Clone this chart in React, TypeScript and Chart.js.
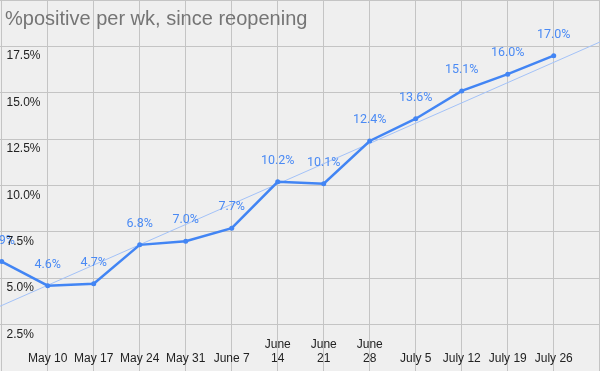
import React, { useEffect, useRef } from 'react';
import { Chart, registerables } from 'chart.js';

Chart.register(...registerables);

const title = '%positive per wk, since reopening';
const weeks = ['May 3', 'May 10', 'May 17', 'May 24', 'May 31', 'June 7', 'June 14', 'June 21', 'June 28', 'July 5', 'July 12', 'July 19', 'July 26'];
// wrapped tick labels as shown (the first week's label is not shown in the reference)
const tickLabels: string[][] = [[], ['May 10'], ['May 17'], ['May 24'], ['May 31'], ['June 7'], ['June', '14'], ['June', '21'], ['June', '28'], ['July 5'], ['July 12'], ['July 19'], ['July 26']];
const positivity = [5.9, 4.6, 4.7, 6.8, 7.0, 7.7, 10.2, 10.1, 12.4, 13.6, 15.1, 16.0, 17.0];
const yTicks = [0, 2.5, 5, 7.5, 10, 12.5, 15, 17.5, 20];
const yTickLabels = ['2.5%', '5.0%', '7.5%', '10.0%', '12.5%', '15.0%', '17.5%'];

const X_MIN = -0.037;
const X_MAX = 13.006;

function linearFit(values: number[]) {
  const n = values.length;
  const mx = (n - 1) / 2;
  const my = values.reduce((a, b) => a + b, 0) / n;
  let sxy = 0;
  let sxx = 0;
  values.forEach((v, i) => {
    sxy += (i - mx) * (v - my);
    sxx += (i - mx) * (i - mx);
  });
  const slope = sxy / sxx;
  const intercept = my - slope * mx;
  return (x: number) => intercept + slope * x;
}

export default function App() {
  const ref = useRef<HTMLCanvasElement | null>(null);

  useEffect(() => {
    if (!ref.current) return;
    const fit = linearFit(positivity);
    const overlay = {
      id: 'overlay',
      beforeDraw(chart: any) {
        const { ctx, width, height } = chart;
        ctx.save();
        ctx.fillStyle = '#efefef';
        ctx.fillRect(0, 0, width, height);
        ctx.restore();
      },
      afterDatasetsDraw(chart: any) {
        const { ctx } = chart;
        const meta = chart.getDatasetMeta(0);
        ctx.save();
        ctx.font = '12.5px Roboto';
        ctx.fillStyle = '#4a8af4';
        ctx.textAlign = 'center';
        ctx.textBaseline = 'alphabetic';
        meta.data.forEach((pt: any, i: number) => {
          ctx.fillText(positivity[i].toFixed(1) + '%', pt.x, pt.y - 18);
        });
        ctx.restore();
      },
      afterDraw(chart: any) {
        const { ctx } = chart;
        const xs = chart.scales.x;
        const ys = chart.scales.y;
        ctx.save();
        ctx.font = '12px "Liberation Sans", Arial, sans-serif';
        ctx.fillStyle = '#222222';
        ctx.textAlign = 'left';
        ctx.textBaseline = 'alphabetic';
        yTicks.slice(1, 8).forEach((v, i) => {
          ctx.fillText(yTickLabels[i], 6.5, ys.getPixelForValue(v) + 13);
        });
        ctx.textAlign = 'center';
        tickLabels.forEach((lines, i) => {
          const x = xs.getPixelForValue(i);
          lines.forEach((line, j) => {
            const y = 362 - (lines.length - 1 - j) * 14;
            ctx.fillText(line, x, y);
          });
        });
        ctx.font = '20px "Liberation Sans", Arial, sans-serif';
        ctx.fillStyle = '#757575';
        ctx.textAlign = 'left';
        ctx.fillText(title, 5, 25);
        ctx.restore();
      },
    };

    const chart = new Chart(ref.current, {
      type: 'line',
      data: {
        datasets: [
          {
            label: '%positive',
            data: positivity.map((v, i) => ({ x: i, y: v })),
            borderColor: '#4285f4',
            backgroundColor: '#4285f4',
            borderWidth: 2.5,
            pointRadius: 2.5,
            pointBorderWidth: 0,
            tension: 0,
          },
          {
            label: 'trend',
            data: [
              { x: X_MIN, y: fit(X_MIN) },
              { x: X_MAX, y: fit(X_MAX) },
            ],
            borderColor: '#a3c2f8',
            borderWidth: 1,
            pointRadius: 0,
          },
        ],
      },
      options: {
        animation: false,
        responsive: false,
        events: [],
        layout: { padding: 0, autoPadding: false },
        plugins: { legend: { display: false }, tooltip: { enabled: false }, title: { display: false } },
        scales: {
          x: {
            type: 'linear',
            min: X_MIN,
            max: X_MAX,
            afterBuildTicks: (scale: any) => {
              const t = weeks.map((_, i) => ({ value: i }));
              t.push({ value: weeks.length });
              scale.ticks = t;
            },
            grid: { color: '#c4c4c4', drawTicks: false, lineWidth: 1 },
            border: { display: false },
            ticks: { display: false },
          },
          y: {
            type: 'linear',
            min: 0,
            max: 20,
            afterBuildTicks: (scale: any) => {
              scale.ticks = yTicks.map((v) => ({ value: v }));
            },
            grid: { color: '#c4c4c4', drawTicks: false, lineWidth: 1 },
            border: { display: false },
            ticks: { display: false },
          },
        },
      },
      plugins: [overlay],
    } as any);
    return () => chart.destroy();
  }, []);

  return (
    <div style={{ position: 'fixed', left: 0, top: 0, width: 600, height: 371 }}>
      <canvas ref={ref} width={600} height={371} style={{ display: 'block', width: 600, height: 371 }} />
    </div>
  );
}
